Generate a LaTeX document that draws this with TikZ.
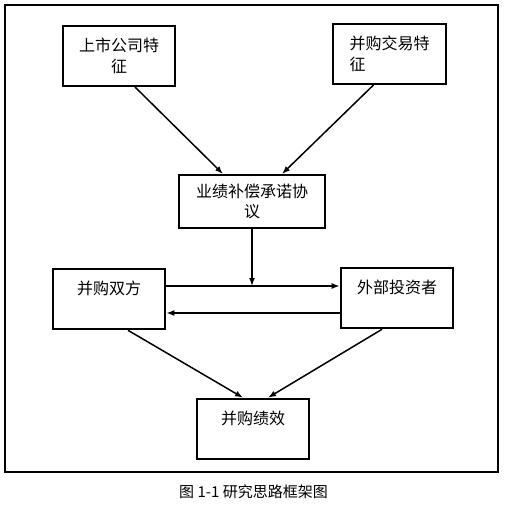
\documentclass[tikz,border=0pt]{standalone}
\usepackage{fontspec}
\newfontfamily\cjk{Noto Sans CJK SC}
\usetikzlibrary{arrows.meta}
\begin{document}
\begin{tikzpicture}[x=1pt,y=-1pt,
  box/.style={draw,line width=2pt,minimum width=112pt,minimum height=60pt,inner sep=2pt,font=\cjk\fontsize{16}{20.5}\selectfont},
  onebox/.style={box,line width=2.6pt,text depth=22pt},
  arr/.style={line width=1.5pt,-{Latex[length=8pt,width=6pt]}}]
\useasboundingbox (0,0) rectangle (506,508);
\draw[line width=2pt] (5,5) rectangle (498,472);
%Boxes
\node[box,align=center] (firm) at (119,56) {上市公司特\\征};
\node[box,align=left,minimum width=113pt] (deal) at (389.5,54) {并购交易特\\征};
\node[box,minimum width=146pt,minimum height=53pt,align=center] (vam) at (252,201.5) {业绩补偿承诺协\\议};
\node[onebox] (both) at (109,299) {并购双方};
\node[onebox] (inv) at (397,298) {外部投资者};
\node[onebox] (perf) at (253,429) {并购绩效};
\coordinate (up) at ([yshift=13pt]both.east);
%Arrows
\draw[arr] ([xshift=16pt]firm.south) -- ([xshift=-29pt]vam.north);
\draw[arr] ([xshift=-16pt]deal.south) -- ([xshift=30pt]vam.north);
\draw[arr] (vam.south) -- (vam.south |- up);
\draw[arr] (up) -- ([yshift=12pt]inv.west);
\draw[arr] ([yshift=-15pt]inv.west) -- ([yshift=-14pt]both.east);
\draw[arr] ([xshift=19pt]both.south) -- ([xshift=-10pt]perf.north);
\draw[arr] ([xshift=-15pt]inv.south) -- ([xshift=15pt]perf.north);
%Caption
\node[font=\cjk\fontsize{15}{18}\selectfont] (cap) at (253.5,492) {图 1-1 研究思路框架图};
\end{tikzpicture}
\end{document}
